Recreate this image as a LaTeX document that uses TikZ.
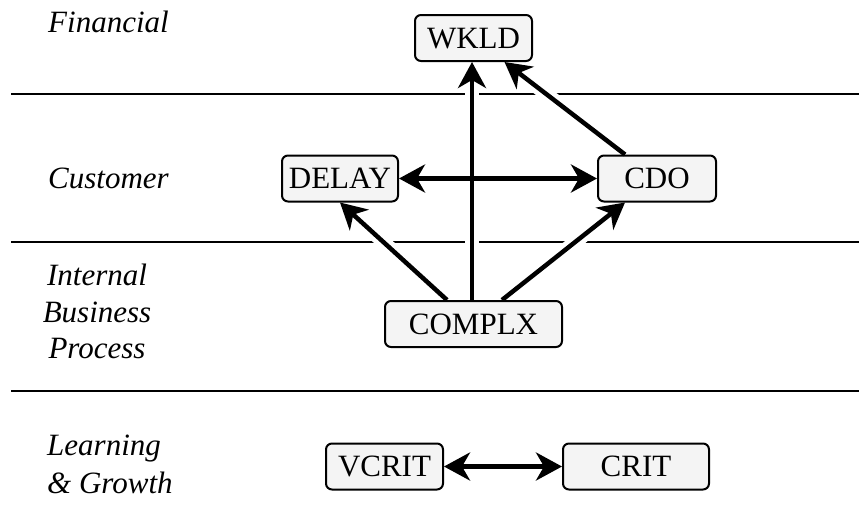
\documentclass[tikz,border=0pt]{standalone}
\usepackage{fontspec}
\setmainfont{Liberation Serif}
\usetikzlibrary{arrows.meta,calc,backgrounds}
\definecolor{boxfill}{HTML}{F4F4F4}
\begin{document}
\begin{tikzpicture}[x=1pt,y=-1pt,
  box/.style={draw=black, line width=2pt, rounded corners=6pt, fill=boxfill,
    minimum height=46pt, text height=20.5pt, text depth=0pt, inner sep=0pt,
    font=\fontsize{31}{37}\selectfont},
  lane/.style={font=\fontsize{31}{37}\selectfont\itshape, inner sep=0pt},
  rule/.style={line width=2.2pt},
  tip/.tip={Stealth[length=26pt,width=28pt,inset=8pt]},
  link/.style={line width=4.5pt, -tip},
  both/.style={line width=4.5pt, tip-tip},
  halo/.style={draw=white, line width=14pt}]
\useasboundingbox (0,0) rectangle (859,512);

% nodes
\node[box, minimum width=117pt] (wkld)   at (473.5,38)  {WKLD};
\node[box, minimum width=116pt] (delay)  at (340,178.5) {DELAY};
\node[box, minimum width=118pt] (cdo)    at (657,178.5) {CDO};
\node[box, minimum width=177pt] (complx) at (473.5,324) {COMPLX};
\node[box, minimum width=117pt] (vcrit)  at (384.5,466.5) {VCRIT};
\node[box, minimum width=146pt] (crit)   at (636,466.5) {CRIT};

% lane labels
\node[lane, anchor=base west] (fin) at (48,32) {Financial};
\node[lane, anchor=base west] (cus) at (48,188) {Customer};
\node[lane, anchor=base] (ibp1) at (97,285) {Internal};
\node[lane, anchor=base] (ibp2) at (97,322) {Business};
\node[lane, anchor=base] (ibp3) at (97,358) {Process};
\node[lane, anchor=base west] (lg1) at (47,455) {Learning};
\node[lane, anchor=base west] (lg2) at (47,493) {\& Growth};

% connector end points
\coordinate (cx1) at ($(complx.north)+(-26.5,0)$);
\coordinate (cx2) at ($(complx.north)+(-1.5,0)$);
\coordinate (cx3) at ($(complx.north)+(28.5,0)$);
\coordinate (wk1) at ($(wkld.south)+(-1.5,0)$);
\coordinate (wk2) at ($(wkld.south)+(31,0)$);
\coordinate (cd1) at ($(cdo.north)+(-32,0)$);
\coordinate (cd2) at ($(cdo.south)+(-32,0)$);

\begin{scope}[on background layer]
  \draw[rule] (11,94) -- (859,94);
  \draw[rule] (11,242) -- (859,242);
  \draw[rule] (11,391) -- (859,391);
  \draw[halo] (cx1) -- (delay.south);
  \draw[halo] (cx2) -- (wk1);
  \draw[halo] (cx3) -- (cd2);
  \draw[halo] (cd1) -- (wk2);
\end{scope}

% connectors
\draw[link] (cx1) -- (delay.south);
\draw[link] (cx2) -- (wk1);
\draw[link] (cx3) -- (cd2);
\draw[link] (cd1) -- (wk2);
\draw[both] (delay.east) -- (cdo.west);
\draw[both] (vcrit.east) -- (crit.west);
\end{tikzpicture}
\end{document}
